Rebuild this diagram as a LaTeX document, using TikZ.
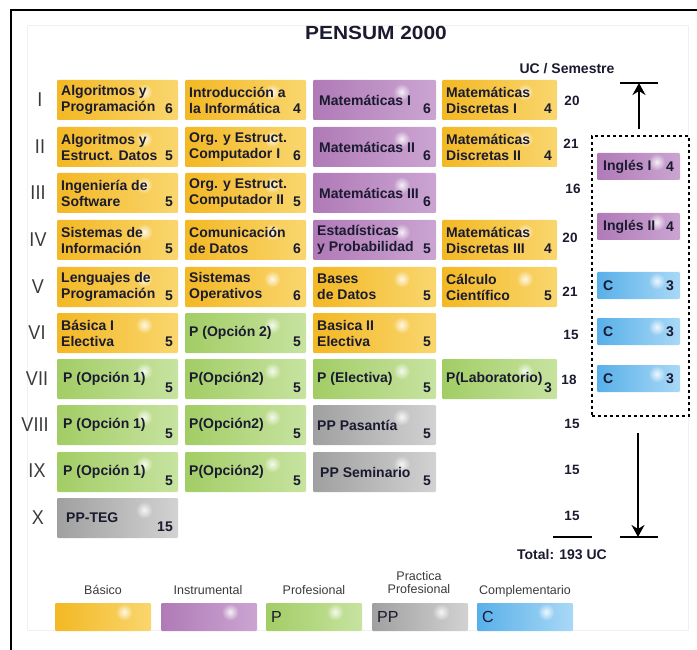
\documentclass[tikz,border=0pt]{standalone}
\usepackage{fontspec}
\setmainfont{Liberation Sans}
\newfontfamily\titlefont[FakeStretch=1.1]{Liberation Sans}
\newfontfamily\romanfont[FakeStretch=0.9]{Liberation Sans}
\usetikzlibrary{calc,fadings,arrows.meta}

% subject-area colours (left / right ends of each gradient)
\definecolor{ylA}{HTML}{F3B824}\definecolor{ylB}{HTML}{F9D66E}
\definecolor{puA}{HTML}{B07AB7}\definecolor{puB}{HTML}{CBA5D2}
\definecolor{grA}{HTML}{A2CD65}\definecolor{grB}{HTML}{C7E3A0}
\definecolor{gyA}{HTML}{A0A0A0}\definecolor{gyB}{HTML}{D2D2D2}
\definecolor{blA}{HTML}{58B0E9}\definecolor{blB}{HTML}{A9D8F6}
\definecolor{ink}{HTML}{1A1A30}
\definecolor{legtext}{HTML}{3A3A3A}

\tikzfading[name=glowspot, inner color=transparent!0, outer color=transparent!100]

\tikzset{
  box/.style={rounded corners=1.2pt, inner sep=0pt, outer sep=0pt, minimum height=40},
  basico/.style={box, left color=ylA, right color=ylB},
  instr/.style={box, left color=puA, right color=puB},
  prof/.style={box, left color=grA, right color=grB},
  practica/.style={box, left color=gyA, right color=gyB},
  compl/.style={box, left color=blA, right color=blB},
  lbl/.style={font=\fontsize{14}{16}\selectfont\bfseries, text=ink, inner sep=0pt, align=left},
  ucnum/.style={font=\fontsize{13.5}{16}\selectfont\bfseries, text=ink, inner sep=0pt},
  roman/.style={font=\romanfont\fontsize{20}{22}\selectfont, text=legtext, inner sep=0pt},
  leglbl/.style={font=\fontsize{12.5}{13.5}\selectfont, text=legtext, inner sep=0pt, align=center},
  legletter/.style={font=\fontsize{16}{18}\selectfont, text=ink, inner sep=0pt},
  thick line/.style={line width=2pt},
  uparrow/.style={line width=2pt, -{Stealth[length=12pt, width=13pt, inset=4pt]}},
}

% soft highlight on a coloured box
\newcommand\glint[2]{%
  \fill[white, fill opacity=0.85, path fading=glowspot]
    ($(#1.north west)!0.72!(#1.north east)+(0,#2)$) circle[radius=8.5pt];}

% one course: name, area style, left x, right x, top y, title, credits
\newcommand\course[7]{%
  \node[#2, minimum width={#4-#3}, anchor=north west] (#1) at (#3,#5) {};
  \glint{#1}{12}
  \node[lbl, anchor=west] (#1t) at ([xshift=4pt]#1.west) {#6};
  \node[lbl, anchor=east] (#1n) at ([xshift=-5pt,yshift=11pt]#1.south east) {#7};}

\begin{document}
\begin{tikzpicture}[x=1pt, y=-1pt]
\useasboundingbox (0,0) rectangle (697,650);

% page frame and faint inner panel
\draw[black!6] (27,25) rectangle (688,630);
\draw[line width=2pt] (11,655) -- (11,10) -- (700,10);

% headings
\node[font=\titlefont\fontsize{19}{22}\selectfont\bfseries, text=ink] (title) at (376,33) {PENSUM 2000};
\node[ucnum, font=\fontsize{14}{16}\selectfont\bfseries] (uchead) at (567,69) {UC / Semestre};

% semester numerals
\node[roman] (s1) at (40,100) {I};
\node[roman] (s2) at (40,147) {II};
\node[roman] (s3) at (38,193) {III};
\node[roman] (s4) at (38,240) {IV};
\node[roman] (s5) at (38,287) {V};
\node[roman] (s6) at (37,333) {VI};
\node[roman] (s7) at (37,379) {VII};
\node[roman] (s8) at (35,425) {VIII};
\node[roman] (s9) at (37,471) {IX};
\node[roman] (s10) at (38,518) {X};

% semester I
\course{a1}{basico}{57}{178}{80}{Algoritmos y\\Programación}{6}
\course{b1}{basico}{185}{306}{80}{Introducción a\\la Informática}{4}
\course{c1}{instr}{313}{436}{80}{\hspace*{2pt}Matemáticas I}{6}
\course{d1}{basico}{442}{557}{80}{Matemáticas\\Discretas I}{4}
% semester II
\course{a2}{basico}{57}{178}{127}{Algoritmos y\\Estruct. Datos}{5}
\course{b2}{basico}{185}{306}{127}{Org. y Estruct.\\Computador I}{6}
\course{c2}{instr}{313}{436}{127}{\hspace*{2pt}Matemáticas II}{6}
\course{d2}{basico}{442}{557}{127}{Matemáticas\\Discretas II}{4}
% semester III
\course{a3}{basico}{57}{178}{173}{Ingeniería de\\Software}{5}
\course{b3}{basico}{185}{306}{173}{Org. y Estruct.\\Computador II}{5}
\course{c3}{instr}{313}{436}{173}{\hspace*{2pt}Matemáticas III}{6}
% semester IV
\course{a4}{basico}{57}{178}{220}{Sistemas de\\Información}{5}
\course{b4}{basico}{185}{306}{220}{Comunicación\\de Datos}{6}
\course{c4}{instr}{313}{436}{220}{Estadísticas\\y Probabilidad}{5}
\course{d4}{basico}{442}{557}{220}{Matemáticas\\Discretas III}{4}
% semester V
\course{a5}{basico}{57}{178}{267}{Lenguajes de\\Programación}{5}
\course{b5}{basico}{185}{306}{267}{Sistemas\\Operativos}{6}
\course{c5}{basico}{313}{436}{267}{Bases\\de Datos}{5}
\course{d5}{basico}{442}{557}{267}{Cálculo\\Científico}{5}
% semester VI
\course{a6}{basico}{57}{178}{313}{Básica I\\Electiva}{5}
\course{b6}{prof}{185}{306}{313}{P (Opción 2)}{5}
\course{c6}{basico}{313}{436}{313}{Basica II\\Electiva}{5}
% semester VII
\course{a7}{prof}{57}{178}{359}{\hspace*{2pt}P (Opción 1)}{5}
\course{b7}{prof}{185}{306}{359}{P(Opción2)}{5}
\course{c7}{prof}{313}{436}{359}{P (Electiva)}{5}
\course{d7}{prof}{442}{557}{359}{P(Laboratorio)}{3}
% semester VIII
\course{a8}{prof}{57}{178}{405}{\hspace*{2pt}P (Opción 1)}{5}
\course{b8}{prof}{185}{306}{405}{P(Opción2)}{5}
\course{c8}{practica}{313}{436}{405}{PP Pasantía}{5}
% semester IX
\course{a9}{prof}{57}{178}{452}{\hspace*{2pt}P (Opción 1)}{5}
\course{b9}{prof}{185}{306}{452}{P(Opción2)}{5}
\course{c9}{practica}{313}{436}{452}{\hspace*{3pt}PP Seminario}{5}
% semester X
\course{a10}{practica}{57}{178}{498}{\hspace*{5pt}PP-TEG}{15}

% credits per semester
\node[ucnum] (uc1) at (572,101) {20};
\node[ucnum] (uc2) at (571,144) {21};
\node[ucnum] (uc3) at (573,189) {16};
\node[ucnum] (uc4) at (570,238) {20};
\node[ucnum] (uc5) at (570,292) {21};
\node[ucnum] (uc6) at (571,335) {15};
\node[ucnum] (uc7) at (569,380) {18};
\node[ucnum] (uc8) at (572,424) {15};
\node[ucnum] (uc9) at (572,470) {15};
\node[ucnum] (uc10) at (572,516) {15};

% complementary courses taken anywhere in the range
\node[draw, line width=2.2pt, dash pattern=on 3pt off 3pt, inner sep=0pt,
      minimum width=97, minimum height=280, anchor=north west] (opt) at (591,135) {};
\foreach \nm/\sty/\top/\txt/\uc in {e1/instr/153/Inglés I/4, e2/instr/213/Inglés II/4,
    e3/compl/272/C/3, e4/compl/318/C/3, e5/compl/365/C/3}{
  \node[\sty, minimum width=83, minimum height=27, anchor=north west] (\nm) at (597,\top) {};
  \glint{\nm}{9}
  \node[lbl, anchor=west] (\nm t) at ([xshift=6pt]\nm.west) {\txt};
  \node[lbl, anchor=east] (\nm n) at ([xshift=-6pt]\nm.east) {\uc};
}

% span arrows and total
\coordinate (topL) at (620,83);
\coordinate (topR) at (658,83);
\coordinate (upfoot) at (639,129);
\draw[thick line] (topL) -- (topR);
\draw[uparrow] (upfoot) -- (upfoot |- topL);

\coordinate (botL) at (620,537);
\coordinate (botR) at (658,537);
\coordinate (dnhead) at (638,433);
\coordinate (sumL) at (553,537);
\coordinate (sumR) at (592,537);
\draw[thick line] (botL) -- (botR);
\draw[thick line] (sumL) -- (sumR);
\draw[uparrow] (dnhead) -- (dnhead |- botL);
\node[ucnum, font=\fontsize{14}{16}\selectfont\bfseries] (total) at (562,555) {Total: 193 UC};

% legend
\foreach \nm/\sty/\x in {l1/basico/55, l2/instr/161, l3/prof/266, l4/practica/372, l5/compl/477}{
  \node[\sty, minimum width=96, minimum height=28, anchor=north west] (\nm) at (\x,603) {};
  \glint{\nm}{9}
}
\node[leglbl, anchor=base] (k1) at (103,594) {Básico};
\node[leglbl, anchor=base] (k2) at (208,594) {Instrumental};
\node[leglbl, anchor=base] (k3) at (314,594) {Profesional};
\node[leglbl, anchor=south] (k4) at (419,594) {Practica\\Profesional};
\node[leglbl, anchor=base] (k5) at (525,594) {Complementario};
\node[legletter, anchor=west] (p3) at ([xshift=5pt]l3.west) {P};
\node[legletter, anchor=west] (p4) at ([xshift=5pt]l4.west) {PP};
\node[legletter, anchor=west] (p5) at ([xshift=5pt]l5.west) {C};
\end{tikzpicture}
\end{document}
